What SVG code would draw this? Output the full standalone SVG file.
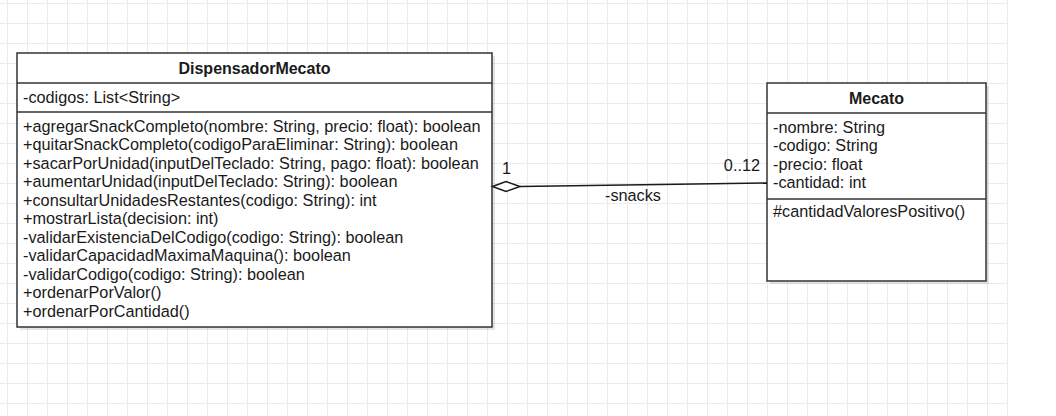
<svg xmlns="http://www.w3.org/2000/svg" width="1056" height="416" viewBox="0 0 1056 416">
<defs>
<pattern id="grid" patternUnits="userSpaceOnUse" x="7" y="3" width="20" height="20">
<path d="M0 0.5 H20 M0.5 0 V20" fill="none" stroke="#ebebeb" stroke-width="1"/>
</pattern>
<style>
.box{fill:#fff;stroke:#333;stroke-width:1.5}
.shadow{fill:#000;opacity:0.1}
.div{stroke:#333;stroke-width:1.5}
text{font-family:"Liberation Sans",Arial,sans-serif;font-size:16.25px;fill:#1a1a1a}
.title{font-weight:bold;text-anchor:middle;font-size:16px}
.edge{fill:none;stroke:#1a1a1a;stroke-width:1.5}
</style>
</defs>
<rect width="1056" height="416" fill="#fff"/>
<rect x="0" y="0" width="1008" height="416" fill="url(#grid)"/>

<g id="DispensadorMecato">
<rect class="shadow" x="20" y="56" width="475" height="274"/>
<rect class="box" x="17" y="53" width="475" height="274"/>
<line class="div" x1="17" y1="83" x2="492" y2="83"/>
<line class="div" x1="17" y1="112" x2="492" y2="112"/>
<text class="title" x="254.5" y="73.5">DispensadorMecato</text>
<text x="23" y="103">-codigos: List&lt;String&gt;</text>
<text x="23" y="131.5">+agregarSnackCompleto(nombre: String, precio: float): boolean</text>
<text x="23" y="150">+quitarSnackCompleto(codigoParaEliminar: String): boolean</text>
<text x="23" y="168.5">+sacarPorUnidad(inputDelTeclado: String, pago: float): boolean</text>
<text x="23" y="187">+aumentarUnidad(inputDelTeclado: String): boolean</text>
<text x="23" y="205.5">+consultarUnidadesRestantes(codigo: String): int</text>
<text x="23" y="224">+mostrarLista(decision: int)</text>
<text x="23" y="242.5">-validarExistenciaDelCodigo(codigo: String): boolean</text>
<text x="23" y="261">-validarCapacidadMaximaMaquina(): boolean</text>
<text x="23" y="279.5">-validarCodigo(codigo: String): boolean</text>
<text x="23" y="298">+ordenarPorValor()</text>
<text x="23" y="316.5">+ordenarPorCantidad()</text>
</g>

<g id="Mecato">
<rect class="shadow" x="770" y="86" width="219" height="198"/>
<rect class="box" x="767" y="83" width="219" height="198"/>
<line class="div" x1="767" y1="113" x2="986" y2="113"/>
<line class="div" x1="767" y1="199" x2="986" y2="199"/>
<text class="title" x="876.5" y="103.5">Mecato</text>
<text x="773" y="132.5">-nombre: String</text>
<text x="773" y="151">-codigo: String</text>
<text x="773" y="169.5">-precio: float</text>
<text x="773" y="188">-cantidad: int</text>
<text x="773" y="217">#cantidadValoresPositivo()</text>
</g>

<g id="connectors">
<path class="edge" d="M520 186.5 L767 183"/>
<path d="M492.5 186.5 L506 181.5 L520 186.5 L506 191.5 Z" fill="#fff" stroke="#1a1a1a" stroke-width="1.5"/>
<text x="502" y="173.5">1</text>
<text x="760" y="170.5" text-anchor="end">0..12</text>
<text x="633" y="200.5" text-anchor="middle">-snacks</text>
</g>
</svg>
